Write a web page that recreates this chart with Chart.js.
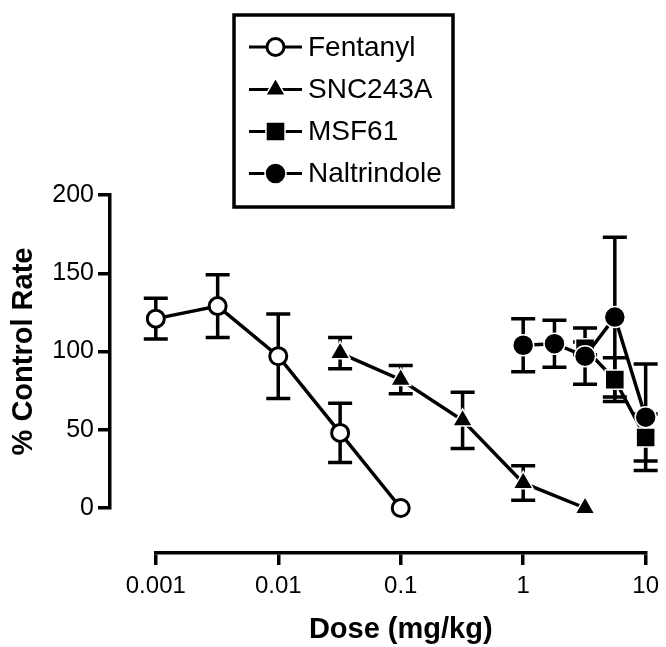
<!DOCTYPE html>
<html>
<head>
<meta charset="utf-8">
<script src="https://cdn.jsdelivr.net/npm/chart.js@4.4.1/dist/chart.umd.min.js"></script>
<style>
html,body{margin:0;padding:0;background:#fff;}
#c{display:block;}
</style>
</head>
<body>
<canvas id="c" width="666" height="647" style="width:666px;height:647px"></canvas>
<script>
// ---- data ----
const seriesNames = ['Fentanyl', 'SNC243A', 'MSF61', 'Naltrindole'];

const fentanylDose = [0.001, 0.0032, 0.01, 0.032, 0.1];
const fentanylRate = [121, 129, 97, 48, 0];
const fentanylErr  = [13, 20, 27, 19, 0];

const sncDose = [0.032, 0.1, 0.32, 1, 3.2];
const sncRate = [99, 82, 56, 16, 0];
const sncErr  = [10, 9, 18, 11, 0];

const msfDose = [3.2, 5.6, 10];
const msfRate = [102, 82, 45];
const msfErr  = [4, 14, 15];

const naltDose = [1, 1.8, 3.2, 5.6, 10];
const naltRate = [104, 105, 97, 122, 58];
const naltErr  = [17, 15, 18, 51, 34];

const xTickValues = [0.001, 0.01, 0.1, 1, 10];
const xTickLabels = ['0.001', '0.01', '0.1', '1', '10'];
const yTickValues = [0, 50, 100, 150, 200];
const yTickLabels = ['0', '50', '100', '150', '200'];

const xTitle = 'Dose (mg/kg)';
const yTitle = '% Control Rate';

// ---- helpers ----
const pts = (xs, ys) => xs.map((d, i) => ({x: d, y: ys[i]}));
const FONT = "'Liberation Sans', Arial, Helvetica, sans-serif";
Chart.defaults.font.family = FONT;
Chart.defaults.color = '#000';

const markerStyles = [
  {pointStyle: 'circle',   radius: 8.5, fill: '#fff', stroke: '#000', bw: 3},
  {pointStyle: 'triangle', radius: 11.5, fill: '#000', stroke: '#fff', bw: 1.5},
  {pointStyle: 'rect',     radius: 13.5, fill: '#000', stroke: '#fff', bw: 1.5},
  {pointStyle: 'circle',   radius: 10.5, fill: '#000', stroke: '#fff', bw: 1.5}
];

function makeDataset(i, xs, ys, errs, order) {
  const m = markerStyles[i];
  return {
    label: seriesNames[i],
    data: pts(xs, ys),
    errors: errs,
    order: order,
    borderColor: '#000',
    borderWidth: 3.5,
    tension: 0,
    fill: false,
    clip: false,
    pointStyle: m.pointStyle,
    pointRadius: m.radius,
    pointHoverRadius: m.radius,
    pointBackgroundColor: m.fill,
    pointBorderColor: m.stroke,
    pointBorderWidth: m.bw,
    pointHoverBorderWidth: m.bw
  };
}

const errorBarPlugin = {
  id: 'errorBars',
  beforeDatasetsDraw(chart) {
    const ctx = chart.ctx, xs = chart.scales.x, ys = chart.scales.y;
    ctx.save();
    ctx.strokeStyle = '#000';
    ctx.lineWidth = 3.5;
    chart.data.datasets.forEach(ds => {
      if (!ds.errors) return;
      ds.data.forEach((p, j) => {
        const e = ds.errors[j];
        if (!e) return;
        const x = xs.getPixelForValue(p.x);
        const yt = ys.getPixelForValue(p.y + e);
        const yb = ys.getPixelForValue(p.y - e);
        ctx.beginPath();
        ctx.moveTo(x, yt); ctx.lineTo(x, yb);
        ctx.moveTo(x - 12, yt); ctx.lineTo(x + 12, yt);
        ctx.moveTo(x - 12, yb); ctx.lineTo(x + 12, yb);
        ctx.stroke();
      });
    });
    ctx.restore();
  }
};

const legendBoxPlugin = {
  id: 'legendBox',
  afterDraw(chart) {
    const ctx = chart.ctx;
    ctx.save();
    ctx.strokeStyle = '#000';
    ctx.lineWidth = 3.5;
    ctx.strokeRect(234, 15, 219, 192);
    const rowY = [47, 89.5, 131.5, 173.5];
    seriesNames.forEach((name, i) => {
      const y = rowY[i];
      const m = markerStyles[i];
      ctx.lineWidth = 3;
      ctx.strokeStyle = '#000';
      ctx.beginPath();
      ctx.moveTo(249, y); ctx.lineTo(302, y);
      ctx.stroke();
      ctx.fillStyle = m.fill;
      ctx.strokeStyle = m.stroke;
      ctx.lineWidth = m.bw;
      Chart.helpers.drawPoint(ctx, {pointStyle: m.pointStyle, radius: m.radius, rotation: 0, borderWidth: m.bw}, 275.5, y);
      ctx.fillStyle = '#000';
      ctx.font = '28px ' + FONT;
      ctx.textAlign = 'left';
      ctx.textBaseline = 'middle';
      ctx.fillText(name, 308, y + 1);
    });
    ctx.restore();
  }
};

new Chart(document.getElementById('c'), {
  type: 'line',
  data: {
    datasets: [
      makeDataset(0, fentanylDose, fentanylRate, fentanylErr, 0),
      makeDataset(1, sncDose, sncRate, sncErr, 1),
      makeDataset(2, msfDose, msfRate, msfErr, 3),
      makeDataset(3, naltDose, naltRate, naltErr, 2)
    ]
  },
  options: {
    responsive: false,
    devicePixelRatio: 1,
    animation: false,
    events: [],
    layout: {padding: {top: 195, right: 20, bottom: 0, left: 0}},
    plugins: {legend: {display: false}, tooltip: {enabled: false}},
    scales: {
      x: {
        type: 'logarithmic',
        position: 'bottom',
        stack: 'xstack', stackWeight: 492, weight: 2,
        min: 0.001, max: 10,
        afterBuildTicks: s => { s.ticks = xTickValues.map(v => ({value: v})); },
        afterFit: s => { s.height = 94; },
        ticks: {
          callback: (v) => xTickLabels[xTickValues.indexOf(v)] ?? '',
          font: {size: 24}, color: '#000', padding: 7,
          maxRotation: 0, minRotation: 0, autoSkip: false
        },
        grid: {display: true, drawOnChartArea: false, drawTicks: true, tickLength: 12, lineWidth: 3.5, tickWidth: 3.5, color: '#000', tickColor: '#000'},
        border: {display: true, color: '#000', width: 3.5},
        title: {display: true, text: xTitle, font: {size: 29, weight: 'bold'}, color: '#000', padding: {top: 0, bottom: 0}}
      },
      xGap: {
        type: 'linear', position: 'bottom',
        stack: 'xstack', stackWeight: 46, weight: 1,
        display: false
      },
      y: {
        type: 'linear',
        position: 'left',
        stack: 'ystack', stackWeight: 313, weight: 2,
        min: 0, max: 200,
        afterBuildTicks: s => { s.ticks = yTickValues.map(v => ({value: v})); },
        afterFit: s => { s.width = 110; },
        ticks: {
          callback: (v) => yTickLabels[yTickValues.indexOf(v)] ?? '',
          font: {size: 25}, color: '#000', padding: 4, autoSkip: false
        },
        grid: {display: true, drawOnChartArea: false, drawTicks: true, tickLength: 12, lineWidth: 3.5, tickWidth: 3.5, color: '#000', tickColor: '#000'},
        border: {display: true, color: '#000', width: 3.5},
        title: {display: true, text: yTitle, font: {size: 29, weight: 'bold'}, color: '#000', padding: {top: 7, bottom: 0}}
      },
      yGap: {
        type: 'linear', position: 'left',
        stack: 'ystack', stackWeight: 45, weight: 1,
        display: false
      }
    }
  },
  plugins: [errorBarPlugin, legendBoxPlugin]
});
</script>
</body>
</html>
